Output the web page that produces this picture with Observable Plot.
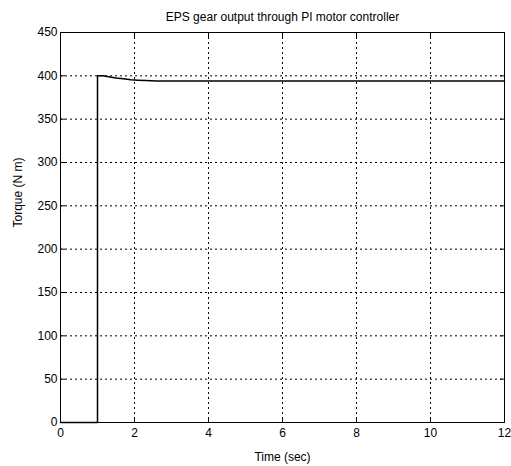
<!DOCTYPE html>
<html>
<head>
<meta charset="utf-8">
<script src="https://cdn.jsdelivr.net/npm/d3@7"></script>
<script src="https://cdn.jsdelivr.net/npm/@observablehq/plot@0.6"></script>
<style>
  html, body { margin: 0; padding: 0; background: #fff; }
  svg { font-family: "Liberation Sans", Arial, sans-serif; }
</style>
</head>
<body>
<div id="chart"></div>
<script>
// Gear output torque response (time in seconds, torque in N m)
const time   = [0, 1, 1, 1.15, 1.3, 1.5, 1.7, 1.9, 2.1, 2.3, 2.6, 3, 12];
const torque = [0, 0, 400, 400, 399, 397.5, 396.5, 395.5, 395, 394.5, 394, 394, 394];

const xTicks = [0, 2, 4, 6, 8, 10, 12];
const yTicks = [0, 50, 100, 150, 200, 250, 300, 350, 400, 450];

const title = "EPS gear output through PI motor controller";
const xLabel = "Time (sec)";
const yLabel = "Torque (N m)";

const data = time.map((t, i) => ({t, v: torque[i]}));
const blank = () => "";

const chart = Plot.plot({
  width: 511,
  height: 466,
  marginLeft: 60,
  marginRight: 7,
  marginTop: 32,
  marginBottom: 44,
  style: {fontSize: "12px", fontFamily: "Liberation Sans, Arial, sans-serif", color: "#000"},
  x: {domain: [0, 12], ticks: xTicks, label: null},
  y: {domain: [0, 450], ticks: yTicks, label: null},
  marks: [
    Plot.gridX(xTicks, {stroke: "#000", strokeOpacity: 1, strokeDasharray: "2,3"}),
    Plot.gridY(yTicks, {stroke: "#000", strokeOpacity: 1, strokeDasharray: "2,3"}),
    Plot.axisX(xTicks, {anchor: "bottom", tickSize: -5, tickPadding: 11, stroke: "#000", fill: "#000"}),
    Plot.axisX(xTicks, {anchor: "top", tickSize: -5, tickFormat: blank, stroke: "#000"}),
    Plot.axisY(yTicks, {anchor: "left", tickSize: -5, tickPadding: 8, stroke: "#000", fill: "#000"}),
    Plot.axisY(yTicks, {anchor: "right", tickSize: -5, tickFormat: blank, stroke: "#000"}),
    Plot.frame({stroke: "#000", strokeWidth: 1}),
    Plot.line(data, {x: "t", y: "v", stroke: "#000", strokeWidth: 1.5, curve: "linear"}),
    Plot.text([title], {frameAnchor: "top", dy: -20, fontSize: 12, fill: "#000"}),
    Plot.text([xLabel], {frameAnchor: "bottom", dy: 38, fontSize: 12, fill: "#000"}),
    Plot.text([yLabel], {frameAnchor: "left", dx: -42, rotate: -90, fontSize: 12, fill: "#000"})
  ]
});
document.getElementById("chart").appendChild(chart);
</script>
</body>
</html>
